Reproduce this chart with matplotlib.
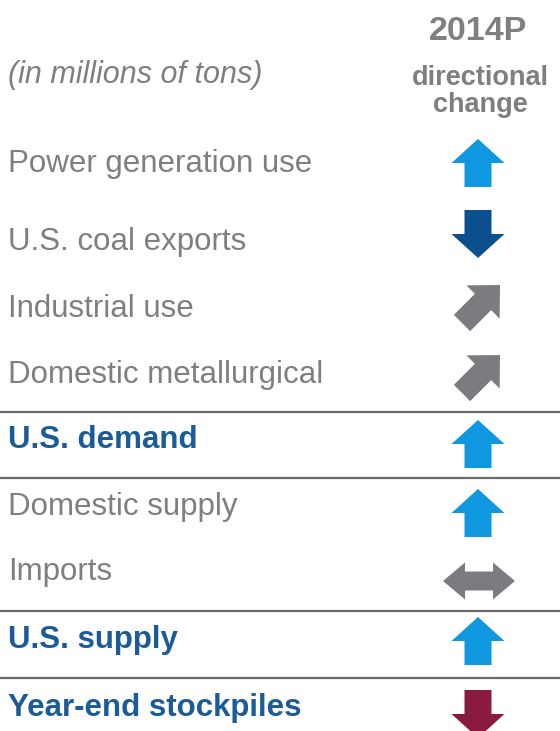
import matplotlib
matplotlib.use("Agg")
import matplotlib.pyplot as plt
from matplotlib.patches import FancyArrow, Polygon

# rows of the table
labels = ["Power generation use", "U.S. coal exports", "Industrial use",
          "Domestic metallurgical", "U.S. demand", "Domestic supply",
          "Imports", "U.S. supply", "Year-end stockpiles"]
directions = ["up", "down", "diag", "diag", "up", "up", "both", "up", "down"]
arrow_colors = ["#0f97df", "#0b4f8e", "#7b7c7f", "#7b7c7f", "#0f97df",
                "#0f97df", "#7b7c7f", "#0f97df", "#8b1a40"]
is_total = [False, False, False, False, True, False, False, True, True]
header_unit = "(in millions of tons)"
header_year = "2014P"
header_sub = ["directional", "change"]

# layout (pixels from top)
text_base = [172, 250, 317, 383, 448, 515, 580, 648, 716]
arrow_mid = [163, 234, 305, 375, 444, 513, 581, 641, 714]
rule_y = [412, 478, 611, 678]

GRAY = "#7f7f7f"
BLUE = "#1b5c98"
plt.rcParams['font.family'] = ['Liberation Sans', 'DejaVu Sans']

fig = plt.figure(figsize=(5.6, 7.31), dpi=100)
ax = fig.add_axes([0, 0, 1, 1])
ax.set_xlim(0, 560)
ax.set_ylim(731, 0)
ax.axis("off")

ax.text(8, 83, header_unit, fontsize=22, style="italic", color=GRAY, va="baseline")
ax.text(478, 40, header_year, fontsize=24.5, fontweight="bold", color=GRAY,
        ha="center", va="baseline")
ax.text(480, 85, header_sub[0], fontsize=19.5, fontweight="bold", color=GRAY,
        ha="center", va="baseline")
ax.text(480, 112, header_sub[1], fontsize=19.5, fontweight="bold", color=GRAY,
        ha="center", va="baseline")

for lab, d, c, tot, yt, y in zip(labels, directions, arrow_colors, is_total,
                                 text_base, arrow_mid):
    if tot:
        ax.text(8, yt, lab, fontsize=22.5, fontweight="bold", color=BLUE,
                va="baseline")
    else:
        ax.text(8, yt, lab, fontsize=22.5, color=GRAY, va="baseline")
    if d == "up":
        ax.add_patch(FancyArrow(478, y + 24, 0, -48, width=27, head_width=53,
                                head_length=24, length_includes_head=True,
                                color=c, lw=0))
    elif d == "down":
        ax.add_patch(FancyArrow(478, y - 24, 0, 48, width=27, head_width=53,
                                head_length=24, length_includes_head=True,
                                color=c, lw=0))
    elif d == "diag":
        ax.add_patch(FancyArrow(462, y + 18, 38, -38, width=23, head_width=47,
                                head_length=24, length_includes_head=True,
                                color=c, lw=0))
    elif d == "both":
        x0, x1, hl, hw, sw = 443, 515, 22, 18.5, 9.5
        pts = [(x0, y), (x0 + hl, y - hw), (x0 + hl, y - sw), (x1 - hl, y - sw),
               (x1 - hl, y - hw), (x1, y), (x1 - hl, y + hw), (x1 - hl, y + sw),
               (x0 + hl, y + sw), (x0 + hl, y + hw)]
        ax.add_patch(Polygon(pts, closed=True, color=c, lw=0))

for ry in rule_y:
    ax.plot([0, 560], [ry, ry], color="#6a6a6a", lw=1.6)

fig.savefig("out.png", dpi=100)
